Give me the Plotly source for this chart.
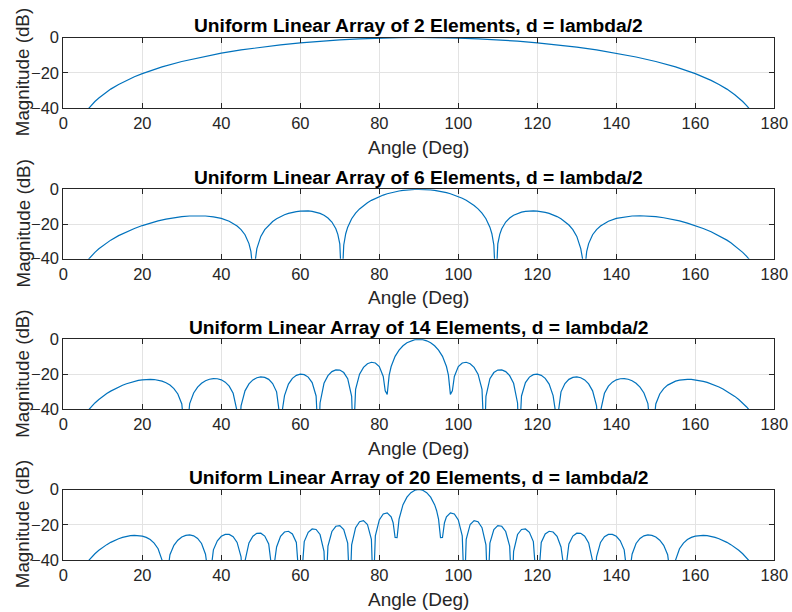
import plotly.graph_objects as go

# ---------------- data ----------------
angles_n2 = [6, 7, 8, 9, 10, 12, 14, 16, 18, 20, 25, 30, 35, 40, 45, 50, 55, 60, 65, 70, 75, 80, 85, 90,
             95, 100, 105, 110, 115, 120, 125, 130, 135, 140, 145, 150, 155, 160, 162, 164, 166, 168, 170,
             171, 172, 173, 174]
db_n2 = [-41.3, -38.6, -36.3, -34.3, -32.45, -29.29, -26.63, -24.32, -22.29, -20.48, -16.68, -13.60, -11.05,
         -8.89, -7.05, -5.48, -4.14, -3.01, -2.07, -1.32, -0.74, -0.33, -0.08, 0.0,
         -0.08, -0.33, -0.74, -1.32, -2.07, -3.01, -4.14, -5.48, -7.05, -8.89, -11.05, -13.60, -16.68,
         -20.48, -22.29, -24.32, -26.63, -29.29, -32.45, -34.3, -36.3, -38.6, -41.3]

angles_n6 = [6, 7, 8, 9, 10, 11, 12, 14, 16, 18, 20, 22, 24, 26, 28, 30, 32, 34, 36, 38, 40, 42, 43, 44, 45,
             46, 47, 47.5, 48, 48.5, 49, 50, 51, 52, 53, 54, 55, 56, 57, 58, 59, 60, 61, 62, 63, 64, 65, 66,
             67, 68, 69, 69.5, 70, 70.5, 71, 71.5, 72, 73, 74, 75, 76, 77, 78, 79, 80, 81, 82, 83, 84, 85,
             86, 87, 88, 89, 90,
             91, 92, 93, 94, 95, 96, 97, 98, 99, 100, 101, 102, 103, 104, 105, 106, 107, 108, 108.5, 109,
             109.5, 110, 110.5, 111, 112, 113, 114, 115, 116, 117, 118, 119, 120, 121, 122, 123, 124, 125,
             126, 127, 128, 129, 130, 131, 131.5, 132, 132.5, 133, 134, 135, 136, 137, 138, 140, 142, 144,
             146, 148, 150, 152, 154, 156, 158, 160, 162, 164, 166, 168, 169, 170, 171, 172, 173, 174]
db_n6 = [-41.3, -38.64, -36.33, -34.29, -32.5, -30.83, -29.3, -26.7, -24.5, -22.6, -20.9, -19.5, -18.2, -17.2,
         -16.4, -15.8, -15.4, -15.25, -15.4, -15.9, -16.8, -18.4, -19.61, -21.13, -23.2, -26.2, -31.3, -35.9,
         -47.0, -42.7, -34.2, -27.15, -23.25, -20.6, -18.57, -17.0, -15.73, -14.7, -13.91, -13.3, -12.84,
         -12.55, -12.43, -12.48, -12.72, -13.18, -13.91, -14.98, -16.53, -18.87, -22.73, -25.93, -31.49,
         -56.5, -32.08, -25.6, -21.82, -16.98, -13.74, -11.3, -9.34, -7.73, -6.36, -5.19, -4.19, -3.32,
         -2.58, -1.95, -1.42, -0.97, -0.62, -0.34, -0.15, -0.04, 0.0,
         -0.04, -0.15, -0.34, -0.62, -0.97, -1.42, -1.95, -2.58, -3.32, -4.19, -5.19, -6.36, -7.73, -9.34,
         -11.3, -13.74, -16.98, -21.82, -25.6, -32.08, -56.5, -31.49, -25.93, -22.73, -18.87, -16.53,
         -14.98, -13.91, -13.18, -12.72, -12.48, -12.43, -12.55, -12.84, -13.3, -13.91, -14.7, -15.73,
         -17.0, -18.57, -20.6, -23.25, -27.15, -34.2, -42.7, -47.0, -35.9, -31.3, -26.2, -23.2, -21.13,
         -19.61, -18.4, -16.8, -15.9, -15.4, -15.25, -15.4, -15.8, -16.4, -17.2, -18.2, -19.5, -20.9,
         -22.6, -24.5, -26.7, -29.3, -30.83, -32.5, -34.29, -36.33, -38.64, -41.3]

angles_n14 = [6, 7, 8, 9, 10, 11, 12, 13, 14, 15, 16, 17, 18, 19, 20, 21, 22, 23, 24, 25, 26, 27, 28, 29, 30,
              31, 32, 33, 34, 35, 36, 37, 38, 39, 40, 41, 42, 43, 44, 44.42, 45, 46, 47, 48, 49, 50, 51, 52,
              53, 54, 55, 56, 57, 58, 59, 60, 61, 62, 63, 64, 64.62, 65, 66, 67, 68, 69, 70, 71, 72, 73, 73.4,
              74, 75, 76, 77, 78, 79, 80, 81, 81.5, 82, 82.5, 83, 84, 85, 86, 87, 88, 89, 90,
              91, 92, 93, 94, 95, 96, 97, 97.5, 98, 98.5, 99, 100, 101, 102, 103, 104, 105, 106, 106.6, 107,
              108, 109, 110, 111, 112, 113, 114, 115, 115.38, 116, 117, 118, 119, 120, 121, 122, 123, 124,
              125, 126, 127, 128, 129, 130, 131, 132, 133, 134, 135, 135.58, 136, 137, 138, 139, 140, 141,
              142, 143, 144, 145, 146, 147, 148, 149, 150, 151, 152, 153, 154, 155, 156, 157, 158, 159, 160,
              161, 162, 163, 164, 165, 166, 167, 168, 169, 170, 171, 172, 173, 174]
db_n14 = [-41.32, -38.67, -36.38, -34.38, -32.61, -31.03, -29.62, -28.36, -27.24, -26.25, -25.38, -24.63,
          -24.01, -23.51, -23.15, -22.93, -22.87, -22.99, -23.33, -23.91, -24.82, -26.17, -28.17, -31.27,
          -36.96, -60.0, -36.71, -30.71, -27.35, -25.16, -23.72, -22.84, -22.44, -22.53, -23.16, -24.46,
          -26.74, -30.84, -41.15, -60.0, -38.04, -29.45, -25.51, -23.23, -21.96, -21.48, -21.75, -22.89,
          -25.25, -30.03, -47.31, -32.16, -25.59, -22.34, -20.6, -19.91, -20.2, -21.6, -24.75, -32.38,
          -60.0, -36.4, -25.14, -20.75, -18.47, -17.47, -17.59, -19.0, -22.49, -32.58, -60.0, -28.54,
          -19.94, -16.02, -13.95, -13.13, -13.54, -15.59, -21.27, -29.4, -31.48, -20.5, -15.54, -9.73,
          -6.16, -3.71, -2.0, -0.87, -0.21, 0.0,
          -0.21, -0.87, -2.0, -3.71, -6.16, -9.73, -15.54, -20.5, -31.48, -29.4, -21.27, -15.59, -13.54,
          -13.13, -13.95, -16.02, -19.94, -28.54, -60.0, -32.58, -22.49, -19.0, -17.59, -17.47, -18.47,
          -20.75, -25.14, -36.4, -60.0, -32.38, -24.75, -21.6, -20.2, -19.91, -20.6, -22.34, -25.59,
          -32.16, -47.31, -30.03, -25.25, -22.89, -21.75, -21.48, -21.96, -23.23, -25.51, -29.45, -38.04,
          -60.0, -41.15, -30.84, -26.74, -24.46, -23.16, -22.53, -22.44, -22.84, -23.72, -25.16, -27.35,
          -30.71, -36.71, -60.0, -36.96, -31.27, -28.17, -26.17, -24.82, -23.91, -23.33, -22.99, -22.87,
          -22.93, -23.15, -23.51, -24.01, -24.63, -25.38, -26.25, -27.24, -28.36, -29.62, -31.03, -32.61,
          -34.38, -36.38, -38.67, -41.32]

angles_n20 = [6, 7, 8, 9, 10, 11, 12, 13, 14, 15, 16, 17, 18, 19, 20, 21, 22, 23, 24, 25, 26, 27, 28, 29, 30,
              31, 32, 33, 34, 35, 36, 37, 38, 39, 40, 41, 42, 43, 44, 45, 45.57, 46, 47, 48, 49, 50, 51, 52,
              53, 54, 55, 56, 57, 58, 59, 60, 61, 62, 63, 64, 65, 66, 66.42, 67, 68, 69, 70, 71, 72, 72.54,
              73, 74, 75, 76, 77, 78, 78.46, 79, 80, 81, 82, 83, 83.5, 84, 84.5, 85, 85.5, 86, 87, 88, 89, 90,
              91, 92, 93, 94, 94.5, 95, 95.5, 96, 96.5, 97, 98, 99, 100, 101, 101.54, 102, 103, 104, 105, 106,
              107, 107.46, 108, 109, 110, 111, 112, 113, 113.58, 114, 115, 116, 117, 118, 119, 120, 121, 122,
              123, 124, 125, 126, 127, 128, 129, 130, 131, 132, 133, 134, 134.43, 135, 136, 137, 138, 139,
              140, 141, 142, 143, 144, 145, 146, 147, 148, 149, 150, 151, 152, 153, 154, 155, 156, 157, 158,
              159, 160, 161, 162, 163, 164, 165, 166, 167, 168, 169, 170, 171, 172, 173, 174]
db_n20 = [-41.34, -38.71, -36.45, -34.49, -32.78, -31.28, -29.98, -28.86, -27.91, -27.15, -26.56, -26.17,
          -26.0, -26.08, -26.45, -27.19, -28.42, -30.38, -33.62, -40.04, -54.32, -36.99, -31.71, -28.76,
          -26.98, -26.02, -25.79, -26.3, -27.74, -30.61, -36.69, -52.97, -34.22, -29.12, -26.57, -25.46,
          -25.5, -26.81, -30.02, -38.16, -60.0, -40.53, -30.31, -26.46, -24.84, -24.8, -26.44, -30.85,
          -49.06, -32.59, -26.54, -24.11, -23.7, -25.26, -30.05, -60.0, -29.56, -24.31, -22.4, -22.68,
          -25.53, -35.08, -60.0, -32.07, -23.82, -20.87, -20.48, -22.67, -30.47, -60.0, -31.45, -21.67,
          -18.3, -17.69, -19.83, -28.33, -60.0, -26.34, -17.29, -13.92, -13.26, -15.56, -18.87, -27.25,
          -27.3, -16.85, -11.88, -8.59, -4.33, -1.81, -0.44, 0.0,
          -0.44, -1.81, -4.33, -8.59, -11.88, -16.85, -27.3, -27.25, -18.87, -15.56, -13.26, -13.92,
          -17.29, -26.34, -60.0, -28.33, -19.83, -17.69, -18.3, -21.67, -31.45, -60.0, -30.47, -22.67,
          -20.48, -20.87, -23.82, -32.07, -60.0, -35.08, -25.53, -22.68, -22.4, -24.31, -29.56, -60.0,
          -30.05, -25.26, -23.7, -24.11, -26.54, -32.59, -49.06, -30.85, -26.44, -24.8, -24.84, -26.46,
          -30.31, -40.53, -60.0, -38.16, -30.02, -26.81, -25.5, -25.46, -26.57, -29.12, -34.22, -52.97,
          -36.69, -30.61, -27.74, -26.3, -25.79, -26.02, -26.98, -28.76, -31.71, -36.99, -54.32, -40.04,
          -33.62, -30.38, -28.42, -27.19, -26.45, -26.08, -26.0, -26.17, -26.56, -27.15, -27.91, -28.86,
          -29.98, -31.28, -32.78, -34.49, -36.45, -38.71, -41.34]

element_counts = [2, 6, 14, 20]
titles = ["Uniform Linear Array of %d Elements, d = lambda/2" % n for n in element_counts]
x_ticks = [0, 20, 40, 60, 80, 100, 120, 140, 160, 180]
y_ticks = [-40, -20, 0]
x_label = "Angle (Deg)"
y_label = "Magnitude (dB)"

series = [(angles_n2, db_n2), (angles_n6, db_n6), (angles_n14, db_n14), (angles_n20, db_n20)]

# ---------------- layout geometry (window pixels) ----------------
W, H = 792, 612
X0, X1 = 63.3, 774.3
panels = [(37.5, 108.0), (189.3, 258.7), (339.3, 409.3), (489.5, 560.0)]
FONT = "Liberation Sans, Arial, Helvetica, sans-serif"
AX = "#262626"
GRID = "#e3e3e3"
BLUE = "#0072BD"

fig = go.Figure()
annotations = []
layout = {}
for i, ((xs, ys), (top, bot), title) in enumerate(zip(series, panels, titles)):
    k = i + 1
    fig.add_trace(go.Scatter(x=xs, y=ys, mode="lines", line=dict(color=BLUE, width=1.2),
                             xaxis="x%d" % k, yaxis="y%d" % k, showlegend=False, hoverinfo="skip"))
    common = dict(showline=True, linecolor=AX, linewidth=1, mirror="ticks", ticks="inside",
                  ticklen=5, tickwidth=1, tickcolor=AX, showgrid=True, gridcolor=GRID, gridwidth=1,
                  zeroline=False, automargin=False, tickfont=dict(family=FONT, size=16.5, color=AX))
    layout["xaxis%d" % k] = dict(common, domain=[X0 / W, X1 / W], range=[0, 180], tickvals=x_ticks,
                                 anchor="y%d" % k)
    layout["yaxis%d" % k] = dict(common, domain=[1 - bot / H, 1 - top / H], range=[-40, 0],
                                 tickvals=y_ticks, anchor="x%d" % k)
    xc = (X0 + X1) / 2 / W
    annotations.append(dict(text="<b>%s</b>" % title, x=xc, y=1 - (top - 12.0) / H, xref="paper",
                            yref="paper", showarrow=False, xanchor="center", yanchor="middle",
                            font=dict(family=FONT, size=19.2, color="black")))
    annotations.append(dict(text=x_label, x=xc, y=1 - (bot + 39.0) / H, xref="paper", yref="paper",
                            showarrow=False, xanchor="center", yanchor="middle",
                            font=dict(family=FONT, size=19, color=AX)))
    annotations.append(dict(text=y_label, x=22.5 / W, y=1 - (top + bot) / 2 / H, xref="paper",
                            yref="paper", showarrow=False, xanchor="center", yanchor="middle",
                            textangle=-90, font=dict(family=FONT, size=18.8, color=AX)))

fig.update_layout(width=W, height=H, margin=dict(l=0, r=0, t=0, b=0, pad=0), autosize=False,
                  template="none", plot_bgcolor="white", paper_bgcolor="white",
                  annotations=annotations, **layout)
fig.write_html("out.html", config={"displayModeBar": False, "staticPlot": True},
               post_script="document.body.style.margin='0';document.body.style.overflow='hidden';")
